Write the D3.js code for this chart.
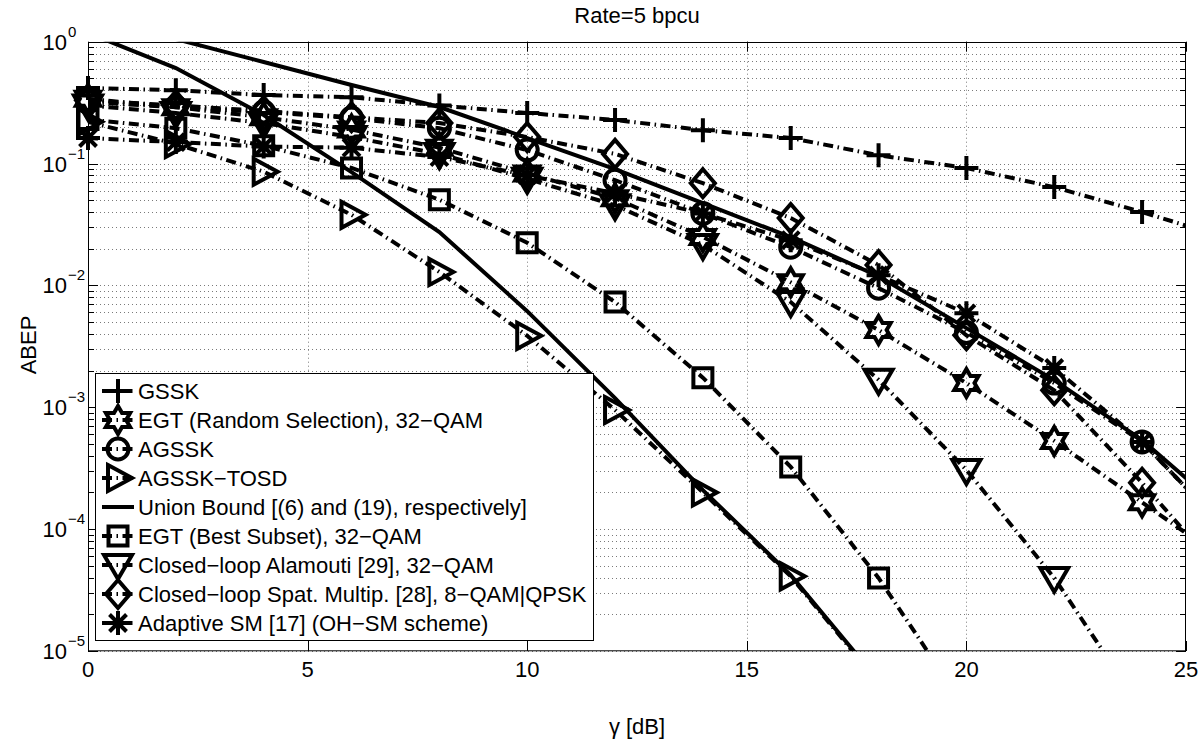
<!DOCTYPE html>
<html>
<head>
<meta charset="utf-8">
<script src="https://cdn.jsdelivr.net/npm/d3@7"></script>
<style>
  body { margin: 0; background: #fff; }
  svg { display: block; font-family: "Liberation Sans", Arial, Helvetica, sans-serif; }
</style>
</head>
<body>
<div id="chart"></div>
<script>
// SNR grid (dB) shared by all curves; 26 dB lies past the axis and is clipped
const snrDb = [0, 2, 4, 6, 8, 10, 12, 14, 16, 18, 20, 22, 24, 26];

const gssk       = [0.417, 0.40, 0.365, 0.35, 0.30, 0.26, 0.228, 0.188, 0.162, 0.117, 0.0919, 0.0641, 0.040, 0.024];
const egtRandom  = [0.34, 0.29, 0.24, 0.19, 0.135, 0.083, 0.052, 0.025, 0.0106, 0.0043, 0.00158, 5.3e-4, 1.66e-4, 5.2e-5];
const agssk      = [0.32, 0.29, 0.265, 0.236, 0.195, 0.129, 0.073, 0.039, 0.0206, 0.0095, 0.0041, 0.00158, 5.2e-4, 9.2e-5];
const agsskTosd  = [0.22, 0.145, 0.0857, 0.038, 0.0129, 0.00386, 9.5e-4, 2.0e-4, 4.1e-5, 5.5e-6, null, null, null, null];
const boundTosd  = [1.18, 0.608, 0.25, 0.0851, 0.0274, 0.00615, 0.00119, 2.09e-4, 4.19e-5, 5.7e-6, null, null, null, null];
const boundAgssk = [null, 1.05, 0.681, 0.441, 0.291, 0.162, 0.09, 0.0474, 0.0249, 0.0119, 0.00446, 0.00167, 5.37e-4, 1.28e-4];
const egtBest    = [0.23, 0.195, 0.14, 0.092, 0.0505, 0.0224, 0.0073, 0.00175, 3.24e-4, 3.98e-5, 3.3e-6, null, null, null];
const alamouti   = [0.30, 0.26, 0.215, 0.165, 0.12, 0.075, 0.0455, 0.0215, 0.0073, 0.00168, 3.06e-4, 3.98e-5, 3.3e-6, null];
const spatMultip = [0.33, 0.30, 0.27, 0.24, 0.215, 0.165, 0.12, 0.069, 0.0357, 0.0147, 0.0039, 0.00138, 2.4e-4, 3.6e-5];
const ohSm       = [0.162, 0.15, 0.138, 0.135, 0.113, 0.08, 0.057, 0.039, 0.0235, 0.0121, 0.0059, 0.0021, 5.2e-4, 9.2e-5];

const xTicks = [0, 5, 10, 15, 20, 25];
const yDecades = [0, -1, -2, -3, -4, -5];

const series = [
  { name: 'GSSK', values: gssk, marker: 'plus' },
  { name: 'EGT (Random Selection), 32\u2212QAM', values: egtRandom, marker: 'hexagram' },
  { name: 'AGSSK', values: agssk, marker: 'circle' },
  { name: 'AGSSK\u2212TOSD', values: agsskTosd, marker: 'triRight' },
  { name: 'Union Bound [(6) and (19), respectively]', values: boundTosd, marker: null, solid: true },
  { name: null, values: boundAgssk, marker: null, solid: true },
  { name: 'EGT (Best Subset), 32\u2212QAM', values: egtBest, marker: 'square' },
  { name: 'Closed\u2212loop Alamouti [29], 32\u2212QAM', values: alamouti, marker: 'triDown' },
  { name: 'Closed\u2212loop Spat. Multip. [28], 8\u2212QAM|QPSK', values: spatMultip, marker: 'diamond' },
  { name: 'Adaptive SM [17] (OH\u2212SM scheme)', values: ohSm, marker: 'asterisk' },
];

const width = 1200, height = 739;
const plot = { left: 88, right: 1186, top: 41.7, bottom: 651 };
const dashPattern = '10,4.5,1.5,4.5';
const lineWidth = 4;
const markerWidth = 4;

const x = d3.scaleLinear().domain([0, 25]).range([plot.left, plot.right]);
const y = d3.scaleLog().domain([1e-5, 1]).range([plot.bottom, plot.top]);

const svg = d3.select('#chart').append('svg')
  .attr('width', width)
  .attr('height', height);

svg.append('rect').attr('width', width).attr('height', height).attr('fill', '#fff');

svg.append('defs').append('clipPath').attr('id', 'plot-clip')
  .append('rect')
  .attr('x', plot.left).attr('y', plot.top)
  .attr('width', plot.right - plot.left).attr('height', plot.bottom - plot.top);

// grid: dotted, minor horizontal lines at every decade subdivision
const grid = svg.append('g')
  .attr('stroke', '#7a7a7a')
  .attr('stroke-width', 1)
  .attr('stroke-dasharray', '1,3');

grid.selectAll('line.h')
  .data(y.ticks().filter((d) => d < 1))
  .join('line')
  .attr('class', 'h')
  .attr('x1', plot.left).attr('x2', plot.right)
  .attr('y1', (d) => Math.round(y(d)) + 0.5).attr('y2', (d) => Math.round(y(d)) + 0.5);

grid.selectAll('line.v')
  .data(xTicks.slice(1, -1))
  .join('line')
  .attr('class', 'v')
  .attr('x1', (d) => Math.round(x(d)) + 0.5).attr('x2', (d) => Math.round(x(d)) + 0.5)
  .attr('y1', plot.top).attr('y2', plot.bottom);

// marker shapes
function markerPath(kind) {
  switch (kind) {
    case 'plus':
      return 'M-12,0H12M0,-12V12';
    case 'circle':
      return 'M10.5,0A10.5,10.5 0 1,1 -10.5,0A10.5,10.5 0 1,1 10.5,0Z';
    case 'square':
      return 'M-9.5,-9.5H9.5V9.5H-9.5Z';
    case 'triRight':
      return 'M-10,-13L14,0L-10,13Z';
    case 'triDown':
      return 'M-14,-10L14,-10L0,14Z';
    case 'diamond':
      return 'M0,-14L12,0L0,14L-12,0Z';
    case 'hexagram': {
      const pts = d3.range(12).map((i) => {
        const r = i % 2 === 0 ? 14 : 14 / Math.sqrt(3);
        const a = -Math.PI / 2 + (i * Math.PI) / 6;
        return [r * Math.cos(a), r * Math.sin(a)];
      });
      return 'M' + pts.map((p) => p.join(',')).join('L') + 'Z';
    }
    case 'asterisk': {
      const s = 12, d = 8.5;
      return `M${-s},0H${s}M0,${-s}V${s}M${-d},${-d}L${d},${d}M${-d},${d}L${d},${-d}`;
    }
    default:
      return '';
  }
}

const line = d3.line()
  .defined((d) => d[1] != null)
  .x((d) => x(d[0]))
  .y((d) => y(d[1]));

const curves = svg.append('g').attr('clip-path', 'url(#plot-clip)');
const markers = svg.append('g');

series.forEach((s) => {
  const pts = snrDb.map((xv, i) => [xv, s.values[i]]);
  curves.append('path')
    .datum(pts)
    .attr('d', line)
    .attr('fill', 'none')
    .attr('stroke', '#000')
    .attr('stroke-width', lineWidth)
    .attr('stroke-dasharray', s.solid ? null : dashPattern);

  if (s.marker) {
    markers.selectAll(null)
      .data(pts.filter((d) => d[1] != null && d[0] <= 25 && d[1] >= 1e-5 && d[1] <= 1))
      .join('path')
      .attr('transform', (d) => `translate(${x(d[0])},${y(d[1])})`)
      .attr('d', markerPath(s.marker))
      .attr('fill', 'none')
      .attr('stroke', '#000')
      .attr('stroke-width', markerWidth);
  }
});

// axes box and inward ticks
const axes = svg.append('g').attr('stroke', '#000').attr('stroke-width', 1);
axes.append('rect')
  .attr('x', plot.left + 0.5).attr('y', Math.round(plot.top) + 0.5)
  .attr('width', plot.right - plot.left - 1).attr('height', plot.bottom - plot.top - 1)
  .attr('fill', 'none');

y.ticks().forEach((d) => {
  const major = Math.abs(Math.log10(d) - Math.round(Math.log10(d))) < 1e-9;
  const len = major ? 10 : 6;
  const yy = Math.round(y(d)) + 0.5;
  axes.append('line').attr('x1', plot.left).attr('x2', plot.left + len).attr('y1', yy).attr('y2', yy);
  axes.append('line').attr('x1', plot.right).attr('x2', plot.right - len).attr('y1', yy).attr('y2', yy);
});

xTicks.forEach((d) => {
  const xx = Math.round(x(d)) + 0.5;
  axes.append('line').attr('x1', xx).attr('x2', xx).attr('y1', plot.bottom).attr('y2', plot.bottom - 10);
  axes.append('line').attr('x1', xx).attr('x2', xx).attr('y1', plot.top).attr('y2', plot.top + 10);
});

// tick labels
const labels = svg.append('g').attr('fill', '#000');
labels.selectAll('text.xt')
  .data(xTicks)
  .join('text')
  .attr('class', 'xt')
  .attr('x', (d) => x(d))
  .attr('y', 677)
  .attr('text-anchor', 'middle')
  .attr('font-size', 22)
  .text((d) => d);

yDecades.forEach((p) => {
  const yy = y(Math.pow(10, p));
  labels.append('text')
    .attr('x', 67).attr('y', yy + 8)
    .attr('text-anchor', 'end')
    .attr('font-size', 22)
    .text('10');
  labels.append('text')
    .attr('x', 68).attr('y', yy - 5)
    .attr('font-size', 15)
    .text(p === 0 ? '0' : '\u2212' + Math.abs(p));
});

labels.append('text')
  .attr('x', 637).attr('y', 23)
  .attr('text-anchor', 'middle')
  .attr('font-size', 22)
  .text('Rate=5 bpcu');

labels.append('text')
  .attr('x', 637).attr('y', 734)
  .attr('text-anchor', 'middle')
  .attr('font-size', 22)
  .text('\u03b3 [dB]');

labels.append('text')
  .attr('transform', 'translate(36,345) rotate(-90)')
  .attr('text-anchor', 'middle')
  .attr('font-size', 22)
  .text('ABEP');

// legend
const legend = svg.append('g');
legend.append('rect')
  .attr('x', 95.5).attr('y', 373.5)
  .attr('width', 498).attr('height', 267)
  .attr('fill', '#fff')
  .attr('stroke', '#000')
  .attr('stroke-width', 1);

series.filter((s) => s.name).forEach((s, i) => {
  const yy = 391 + i * 29;
  legend.append('line')
    .attr('x1', 102).attr('x2', 134)
    .attr('y1', yy).attr('y2', yy)
    .attr('stroke', '#000')
    .attr('stroke-width', lineWidth)
    .attr('stroke-dasharray', s.solid ? null : dashPattern);
  if (s.marker) {
    legend.append('path')
      .attr('transform', `translate(118,${yy})`)
      .attr('d', markerPath(s.marker))
      .attr('fill', 'none')
      .attr('stroke', '#000')
      .attr('stroke-width', markerWidth);
  }
  legend.append('text')
    .attr('x', 138).attr('y', yy + 8)
    .attr('font-size', 22)
    .text(s.name);
});
</script>
</body>
</html>
